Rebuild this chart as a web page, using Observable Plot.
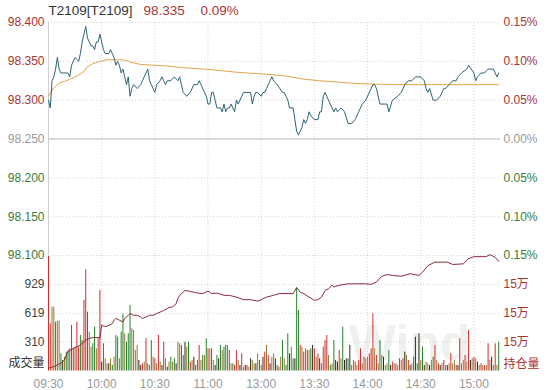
<!DOCTYPE html>
<html><head><meta charset="utf-8">
<script src="https://cdn.jsdelivr.net/npm/d3@7"></script>
<script src="https://cdn.jsdelivr.net/npm/@observablehq/plot@0.6"></script>
<style>
html,body{margin:0;padding:0;background:#fff;}
#chart{position:relative;width:548px;height:390px;overflow:hidden;}
</style></head>
<body><div id="chart"></div>
<script>
// ---------- data ----------
const headerName = "T2109[T2109]";
const lastPrice = 98.335;
const prevClose = 98.25;
const timeTicks = [0, 30, 60, 90, 120, 150, 180, 210, 240];
const timeLabels = ["09:30", "10:00", "10:30", "11:00", "13:00", "13:30", "14:00", "14:30", "15:00"];
const priceUpTicks = [98.4, 98.35, 98.3];
const priceDownTicks = [98.2, 98.15, 98.1];
const volTicks = [310, 619, 929];
const volMax = 1239;
const oiTicks = [151000, 152000, 153000];
const oiDomain = [150000, 154000];

// [trading minute since 09:30, price]
const priceSeries = [
 [0,98.300],[1,98.290],[2,98.325],[3,98.330],[4,98.340],[5,98.355],[6,98.340],[7,98.335],[9,98.335],[11,98.335],
 [12,98.330],[13,98.345],[14,98.350],[15,98.355],[17,98.350],[18,98.360],[19,98.375],[20,98.385],[21,98.395],[22,98.380],
 [23,98.375],[24,98.370],[25,98.370],[26,98.365],[27,98.375],[28,98.375],[29,98.385],[30,98.375],[31,98.365],[32,98.360],
 [34,98.360],[35,98.365],[36,98.360],[37,98.355],[38,98.345],[39,98.350],[40,98.345],[41,98.335],[42,98.340],[43,98.330],
 [44,98.320],[45,98.330],[46,98.305],[47,98.315],[48,98.320],[50,98.315],[52,98.320],[53,98.325],[56,98.340],[57,98.325],
 [58,98.320],[59,98.315],[60,98.310],[61,98.320],[63,98.325],[64,98.330],[65,98.325],[66,98.320],[67,98.325],[69,98.325],
 [71,98.330],[73,98.325],[74,98.330],[75,98.320],[76,98.310],[78,98.305],[80,98.310],[82,98.320],[84,98.320],[85,98.325],
 [86,98.320],[88,98.310],[89,98.305],[90,98.295],[91,98.295],[92,98.310],[93,98.310],[94,98.300],[95,98.290],[97,98.290],
 [98,98.285],[99,98.295],[100,98.285],[101,98.290],[102,98.290],[103,98.295],[105,98.285],[106,98.300],[107,98.295],[109,98.305],
 [110,98.310],[112,98.310],[114,98.310],[115,98.295],[116,98.305],[117,98.310],[118,98.310],[120,98.305],[121,98.310],[122,98.310],
 [123,98.315],[124,98.320],[125,98.325],[126,98.330],[127,98.325],[129,98.320],[132,98.310],[133,98.310],[134,98.305],[135,98.300],
 [136,98.290],[138,98.290],[139,98.275],[140,98.260],[141,98.255],[142,98.260],[143,98.265],[144,98.275],[145,98.270],[146,98.275],
 [147,98.285],[148,98.280],[150,98.275],[152,98.275],[153,98.285],[154,98.285],[155,98.305],[156,98.310],[157,98.305],[159,98.295],
 [160,98.290],[161,98.285],[162,98.290],[163,98.285],[165,98.290],[167,98.285],[169,98.270],[171,98.270],[173,98.275],[175,98.285],
 [177,98.295],[179,98.300],[182,98.315],[183,98.320],[184,98.320],[185,98.315],[187,98.295],[191,98.295],[192,98.285],[194,98.300],
 [197,98.305],[199,98.310],[200,98.315],[201,98.320],[203,98.325],[205,98.325],[207,98.330],[210,98.330],[212,98.325],[213,98.315],
 [214,98.310],[215,98.315],[217,98.300],[219,98.300],[221,98.305],[223,98.315],[224,98.315],[226,98.320],[228,98.325],[230,98.325],
 [231,98.330],[233,98.335],[236,98.340],[237,98.345],[240,98.335],[241,98.325],[242,98.330],[244,98.335],[246,98.335],[248,98.340],
 [249,98.340],[251,98.340],[253,98.330],[254,98.335]
];

// average price
const avgSeries = [
 [0,98.305],[3,98.316],[6,98.322],[9,98.324],[12,98.327],[16,98.331],[20,98.337],[22,98.343],[25,98.347],[29,98.350],
 [33,98.352],[37,98.352],[41,98.352],[44,98.351],[48,98.348],[52,98.346],[59,98.345],[67,98.344],[75,98.342],[88,98.340],
 [106,98.336],[125,98.333],[134,98.331],[144,98.327],[153,98.325],[165,98.323],[170,98.322],[178,98.321],[197,98.320],[216,98.320],
 [254,98.320]
];

// open interest
const oiSeries = [
 [0,150100],[3,150150],[5,150210],[7,150270],[9,150380],[11,150670],[14,150780],[16,150840],[18,150900],[20,151010],
 [21,151070],[23,151130],[25,151160],[28,151160],[29,151130],[30,151590],[31,151550],[33,151550],[36,151640],[37,151760],
 [38,151820],[40,151760],[42,151700],[43,151820],[45,151930],[46,151990],[48,151930],[50,151930],[52,151870],[53,151820],
 [55,151870],[57,151930],[59,151930],[61,151990],[63,152040],[65,152100],[67,152160],[68,152200],[70,152220],[72,152330],
 [73,152510],[74,152620],[76,152730],[77,152790],[79,152770],[82,152730],[84,152700],[87,152680],[90,152770],[92,152680],
 [95,152700],[99,152620],[102,152620],[106,152560],[110,152470],[114,152470],[118,152420],[120,152470],[123,152560],[127,152620],
 [130,152680],[138,152680],[140,152890],[142,152730],[144,152680],[147,152560],[150,152450],[152,152470],[154,152560],[156,152790],
 [158,152850],[160,152970],[161,152910],[164,152970],[169,153020],[174,153020],[179,153020],[182,153000],[185,153080],[188,153280],
 [191,153340],[194,153310],[199,153280],[204,153370],[209,153310],[211,153420],[214,153650],[218,153770],[225,153770],[228,153690],
 [234,153710],[237,153890],[240,153960],[247,153960],[249,154030],[252,153940],[254,153800]
];

// per-minute volume (index = trading minute)
const volume = [
 1229,506,685,685,524,531,538,184,113,148, 202,220,238,488,238,256,524,256,381,327,
 757,1086,631,417,256,292,470,238,345,864, 95,292,131,77,77,131,59,148,381,363,
 131,417,606,399,309,399,703,453,435,220, 274,113,59,77,95,345,77,59,327,148,
 131,77,381,95,59,309,131,41,95,148, 95,131,77,309,292,274,166,309,256,309,
 95,113,148,59,113,
 274,113,166,166,345,238,238,238,113,59, 166,131,274,220,256,274,274,220,77,77,
 59,220,113,59,184,41,59,59,41,131, 113,77,77,184,113,59,148,202,274,166,
 77,148,184,131,59,41,148,327,131,59, 399,184,256,131,131,890,649,274,256,202,
 238,220,220,238,274,238,148,184,131,77, 256,327,381,166,59,77,327,113,95,220,
 131,470,113,131,
 131,274,59,113,95,59,113,238,77,148, 131,148,184,238,613,238,166,77,327,166,
 148,59,77,220,59,95,77,77,59,131, 113,131,202,166,113,59,77,148,363,77,
 399,113,256,59,95,77,59,113,148,274, 113,77,59,77,113,59,59,77,184,77,
 113,59,59,345,77,113,166,95,435,113, 131,148,131,95,59,77,59,59,59,292,
 113,148,59,292,59,309
];
// r = up, g = down, o = flat, d = dark
const volumeType = (
 "rrooroogdo" + "ggrrrorrgr" + "rrgooggorr" + "dgoodogogg" + "oggogggooo" +
 "oddrorgogo" + "rorodrodog" + "ogdooggdog" + "rodrg" +
 "rogogrorod" + "gdgoggorog" + "rrodrodrod" + "oodorodror" + "doodgrogog" +
 "gdogdggror" + "orogdrordo" + "rrrogogddr" + "ogdd" +
 "gdoororror" + "oorrrorogo" + "doogdroror" + "ordordogdg" + "dogdoodogr" +
 "ordorodoro" + "ordroorord" + "orodororor" + "odorog"
).split("");

// ---------- style ----------
const FF = "'Liberation Sans', Arial, 'Noto Sans CJK SC', sans-serif";
const RED = "#a83434", GREEN = "#3b7d3b", GRAY = "#9a9a9a", DARK = "#444";
const barColor = {r: "#d22c2c", g: "#23822a", o: "#94782a", d: "#2d2a1e"};
const pct = d => (Math.abs(d - prevClose) / prevClose * 100).toFixed(2) + "%";
const W = 548, H = 390, ML = 48, MR = 48;
const priceBottom = 135, volTop = 255, volBottom = 19.5;
const grid = {stroke: "#d4d4d4", strokeDasharray: "1,2"};
const baseStyle = {position: "absolute", left: "0px", top: "0px", background: "transparent", overflow: "visible", fontFamily: FF, fontSize: "12px"};

const chart = document.getElementById("chart");

// price panel
const plotA = Plot.plot({
  width: W, height: H, marginLeft: ML, marginRight: MR, marginTop: 22, marginBottom: priceBottom,
  style: baseStyle,
  x: {domain: [0, 255], axis: null},
  y: {domain: [98.1, 98.4], axis: null},
  marks: [
    Plot.ruleY(priceUpTicks.concat(priceDownTicks), grid),
    Plot.ruleX(timeTicks.slice(1), grid),
    Plot.ruleY([prevClose], {stroke: "#cdcdcd", strokeWidth: 1.5}),
    Plot.ruleX([0], {stroke: "#cfcfcf"}),
    Plot.axisY({anchor: "left", ticks: priceUpTicks, tickSize: 0, tickPadding: 4, tickFormat: d3.format(".3f"), fill: RED, color: RED, label: null, fontSize: 12}),
    Plot.axisY({anchor: "left", ticks: [prevClose], tickSize: 0, tickPadding: 4, tickFormat: d3.format(".3f"), fill: GRAY, color: GRAY, label: null, fontSize: 12}),
    Plot.axisY({anchor: "left", ticks: priceDownTicks, tickSize: 0, tickPadding: 4, tickFormat: d3.format(".3f"), fill: GREEN, color: GREEN, label: null, fontSize: 12}),
    Plot.axisY({anchor: "right", ticks: priceUpTicks, tickSize: 0, tickPadding: 3, tickFormat: pct, fill: RED, color: RED, label: null, fontSize: 12}),
    Plot.axisY({anchor: "right", ticks: [prevClose], tickSize: 0, tickPadding: 3, tickFormat: pct, fill: GRAY, color: GRAY, label: null, fontSize: 12}),
    Plot.axisY({anchor: "right", ticks: priceDownTicks, tickSize: 0, tickPadding: 3, tickFormat: pct, fill: GREEN, color: GREEN, label: null, fontSize: 12}),
    Plot.line(avgSeries, {x: d => d[0], y: d => d[1], stroke: "#e2a54a", strokeWidth: 1}),
    Plot.line(priceSeries, {x: d => d[0], y: d => d[1], stroke: "#2f6373", strokeWidth: 1}),
    Plot.text([headerName], {frameAnchor: "top-left", text: d => d, dy: -12, lineAnchor: "middle", textAnchor: "start", fill: "#333", fontSize: 13.5}),
    Plot.text([lastPrice], {frameAnchor: "top-left", text: d => d.toFixed(3), dx: 95, dy: -12, lineAnchor: "middle", textAnchor: "start", fill: RED, fontSize: 13.5}),
    Plot.text([lastPrice], {frameAnchor: "top-left", text: d => pct(d), dx: 152, dy: -12, lineAnchor: "middle", textAnchor: "start", fill: RED, fontSize: 13.5})
  ]
});

// volume panel
const plotB = Plot.plot({
  width: W, height: H, marginLeft: ML, marginRight: MR, marginTop: volTop, marginBottom: volBottom,
  style: baseStyle,
  color: {type: "identity"},
  x: {domain: [0, 255], axis: null},
  y: {domain: [0, volMax], axis: null},
  marks: [
    Plot.text(["Wind"], {frameAnchor: "bottom-right", text: d => d, dx: -30, dy: -11, lineAnchor: "bottom", textAnchor: "end", fill: "#eef1ee", fontSize: 50, fontWeight: "bold"}),
    Plot.ruleY(volTicks, grid),
    Plot.ruleX(timeTicks.slice(1), grid),
    Plot.ruleX([0], {stroke: "#cfcfcf"}),
    Plot.ruleX(volume, {x: (d, i) => i, y1: 0, y2: d => d, stroke: (d, i) => barColor[volumeType[i]], strokeWidth: 1}),
    Plot.axisY({anchor: "left", ticks: volTicks, tickSize: 0, tickPadding: 4, tickFormat: d => String(d), fill: DARK, color: DARK, label: null, fontSize: 12}),
    Plot.text(["成交量"], {frameAnchor: "bottom-left", text: d => d, dx: -4, dy: -7.5, lineAnchor: "middle", textAnchor: "end", fill: "#333", fontSize: 12}),
    Plot.axisX({anchor: "bottom", ticks: timeTicks, tickSize: 0, tickPadding: 8, tickFormat: d => timeLabels[timeTicks.indexOf(d)], fill: GRAY, color: GRAY, label: null, fontSize: 12})
  ]
});

// open interest overlay
const plotC = Plot.plot({
  width: W, height: H, marginLeft: ML, marginRight: MR, marginTop: volTop, marginBottom: volBottom,
  style: baseStyle,
  x: {domain: [0, 255], axis: null},
  y: {domain: oiDomain, axis: null},
  marks: [
    Plot.line(oiSeries, {x: d => d[0], y: d => d[1], stroke: "#8a2c3c", strokeWidth: 1}),
    Plot.axisY({anchor: "right", ticks: oiTicks, tickSize: 0, tickPadding: 3, tickFormat: d => Math.floor(d / 10000) + "万", fill: RED, color: RED, label: null, fontSize: 12}),
    Plot.text(["持仓量"], {frameAnchor: "bottom-right", text: d => d, dx: 3, dy: -6.5, lineAnchor: "middle", textAnchor: "start", fill: RED, fontSize: 12})
  ]
});

chart.append(plotB, plotA, plotC);
</script></body></html>
